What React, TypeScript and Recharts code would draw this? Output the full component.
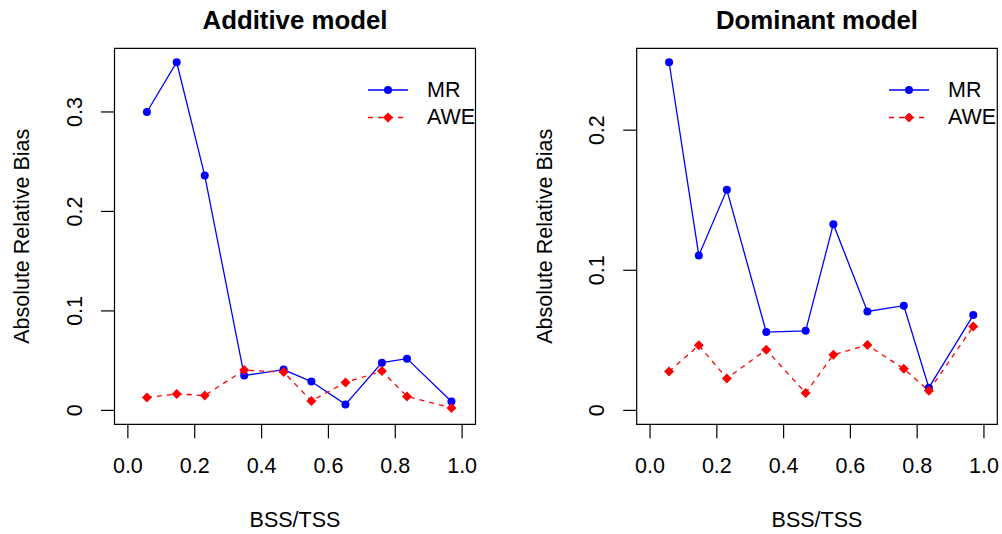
import React from 'react';
import { LineChart, Line, XAxis, YAxis, ReferenceArea, Legend } from 'recharts';

// ---------- data ----------
const bssTss = [0.057, 0.146, 0.23, 0.348, 0.466, 0.549, 0.651, 0.76, 0.835, 0.968];

const additiveMR = [0.3, 0.35, 0.236, 0.035, 0.041, 0.029, 0.006, 0.048, 0.052, 0.009];
const additiveAWE = [0.013, 0.0165, 0.015, 0.0405, 0.0385, 0.0095, 0.028, 0.0395, 0.014, 0.0025];

const dominantMR = [0.2485, 0.1106, 0.1574, 0.0559, 0.0568, 0.1329, 0.0706, 0.0747, 0.0162, 0.068];
const dominantAWE = [0.0278, 0.0464, 0.0228, 0.0433, 0.0124, 0.0397, 0.0466, 0.0297, 0.014, 0.0599];

const xTicks = [0, 0.2, 0.4, 0.6, 0.8, 1.0];
const xTickLabels = ['0.0', '0.2', '0.4', '0.6', '0.8', '1.0'];
const additiveYTicks = [0, 0.1, 0.2, 0.3];
const dominantYTicks = [0, 0.1, 0.2];
const seriesNames = ['MR', 'AWE'];
const panelTitles = ['Additive model', 'Dominant model'];
const xAxisTitle = 'BSS/TSS';
const yAxisTitle = 'Absolute Relative Bias';

// ---------- style ----------
const FONT = '"Liberation Sans", Arial, Helvetica, sans-serif';
const FS = 21.5;
const BLUE = '#0000FF';
const RED = '#FF0000';
const X_DOMAIN: [number, number] = [-0.04, 1.04];

const XTick = (props: any) => {
  const { x, y, payload } = props;
  const idx = xTicks.indexOf(payload.value);
  const label = idx >= 0 ? xTickLabels[idx] : payload.value.toFixed(1);
  return (
    <text x={x} y={y + 35} textAnchor="middle" fontSize={FS} fontFamily={FONT} fill="#000">
      {label}
    </text>
  );
};

const YTick = (props: any) => {
  const { x, y, payload } = props;
  const cx = x - 26.3;
  const label = payload.value === 0 ? '0' : String(payload.value);
  return (
    <text
      x={cx}
      y={y}
      transform={`rotate(-90 ${cx} ${y})`}
      textAnchor="middle"
      dominantBaseline="central"
      fontSize={FS}
      fontFamily={FONT}
      fill="#000"
    >
      {label}
    </text>
  );
};

const Diamond = (props: any) => {
  const { cx, cy } = props;
  if (cx == null || cy == null) return null;
  const h = 5;
  return (
    <polygon
      points={`${cx},${cy - h} ${cx + h},${cy} ${cx},${cy + h} ${cx - h},${cy}`}
      fill={RED}
      stroke="none"
    />
  );
};

const LegendBox = () => (
  <svg width={130} height={60} style={{ overflow: 'visible', display: 'block' }}>
    {seriesNames.map((name, i) => {
      const y = 15 + i * 27.5;
      const isMR = i === 0;
      const color = isMR ? BLUE : RED;
      return (
        <g key={name}>
          <line
            x1={7}
            x2={47}
            y1={y}
            y2={y}
            stroke={color}
            strokeWidth={1.3}
            strokeDasharray={isMR ? undefined : '5 5'}
          />
          {isMR ? (
            <circle cx={27} cy={y} r={4} fill={BLUE} />
          ) : (
            <Diamond cx={27} cy={y} />
          )}
          <text x={66} y={y + 6.5} fontSize={FS} fontFamily={FONT} fill="#000">
            {name}
          </text>
        </g>
      );
    })}
  </svg>
);

type PanelProps = {
  title: string;
  mr: number[];
  awe: number[];
  yTicks: number[];
  yDomain: [number, number];
  plotLeft: number;
  plotRight: number;
};

const W = 501;
const H = 534;
const PLOT_TOP = 48.3;
const PLOT_BOTTOM = 424.3;
const Y_AXIS_W = 80;
const X_AXIS_H = 60;

const Panel = ({ title, mr, awe, yTicks, yDomain, plotLeft, plotRight }: PanelProps) => {
  const data = bssTss.map((x, i) => ({ x, MR: mr[i], AWE: awe[i] }));
  const margin = {
    top: PLOT_TOP,
    bottom: H - PLOT_BOTTOM - X_AXIS_H,
    left: plotLeft - Y_AXIS_W,
    right: W - plotRight,
  };
  return (
    <LineChart width={W} height={H} data={data} margin={margin}>
      <XAxis
        dataKey="x"
        type="number"
        domain={X_DOMAIN}
        ticks={xTicks}
        interval={0}
        allowDataOverflow
        axisLine={false}
        tickLine={{ stroke: '#000', strokeWidth: 1.2 }}
        tickSize={14}
        tickMargin={0}
        height={X_AXIS_H}
        tick={<XTick />}
        label={{
          content: (p: any) => {
            const vb = p.viewBox || {};
            return (
              <text
                x={vb.x + vb.width / 2}
                y={vb.y + 102.4}
                textAnchor="middle"
                fontSize={FS}
                fontFamily={FONT}
                fill="#000"
              >
                {xAxisTitle}
              </text>
            );
          },
        }}
      />
      <YAxis
        type="number"
        domain={yDomain}
        ticks={yTicks}
        interval={0}
        allowDataOverflow
        axisLine={false}
        tickLine={{ stroke: '#000', strokeWidth: 1.2 }}
        tickSize={13.5}
        tickMargin={0}
        width={Y_AXIS_W}
        tick={<YTick />}
        label={{
          content: (p: any) => {
            const vb = p.viewBox || {};
            const cx = vb.x + vb.width - 92;
            const cy = vb.y + vb.height / 2;
            return (
              <text
                x={cx}
                y={cy}
                transform={`rotate(-90 ${cx} ${cy})`}
                textAnchor="middle"
                dominantBaseline="central"
                fontSize={FS}
                fontFamily={FONT}
                fill="#000"
              >
                {yAxisTitle}
              </text>
            );
          },
        }}
      />
      <ReferenceArea
        x1={X_DOMAIN[0]}
        x2={X_DOMAIN[1]}
        y1={yDomain[0]}
        y2={yDomain[1]}
        fill="#ffffff"
        fillOpacity={0}
        stroke="#000"
        strokeWidth={1.2}
        ifOverflow="visible"
        label={{
          content: (p: any) => {
            const vb = p.viewBox || {};
            return (
              <text
                x={vb.x + vb.width / 2}
                y={vb.y - 19.5}
                textAnchor="middle"
                fontSize={25.8}
                fontWeight="bold"
                fontFamily={FONT}
                fill="#000"
              >
                {title}
              </text>
            );
          },
        }}
      />
      <Line
        type="linear"
        dataKey="MR"
        stroke={BLUE}
        strokeWidth={1.3}
        dot={{ r: 4, fill: BLUE, stroke: 'none' }}
        activeDot={false}
        isAnimationActive={false}
      />
      <Line
        type="linear"
        dataKey="AWE"
        stroke={RED}
        strokeWidth={1.3}
        strokeDasharray="5 5"
        dot={(p: any) => <Diamond key={`d-${p.index}`} cx={p.cx} cy={p.cy} />}
        activeDot={false}
        isAnimationActive={false}
      />
      <Legend
        layout="vertical"
        align="center"
        verticalAlign="middle"
        content={() => <LegendBox />}
        wrapperStyle={{ left: plotRight - 115, top: 75, width: 130, height: 60 }}
      />
    </LineChart>
  );
};

export default function App() {
  return (
    <div
      style={{
        position: 'absolute',
        left: 0,
        top: 0,
        width: 1002,
        height: 534,
        background: '#fff',
        fontFamily: FONT,
        overflow: 'hidden',
      }}
    >
      <div style={{ position: 'absolute', left: 0, top: 0 }}>
        <Panel
          title={panelTitles[0]}
          mr={additiveMR}
          awe={additiveAWE}
          yTicks={additiveYTicks}
          yDomain={[-0.014, 0.364]}
          plotLeft={114.5}
          plotRight={475.5}
        />
      </div>
      <div style={{ position: 'absolute', left: 501, top: 0 }}>
        <Panel
          title={panelTitles[1]}
          mr={dominantMR}
          awe={dominantAWE}
          yTicks={dominantYTicks}
          yDomain={[-0.00994, 0.25844]}
          plotLeft={135.7}
          plotRight={496.3}
        />
      </div>
    </div>
  );
}
